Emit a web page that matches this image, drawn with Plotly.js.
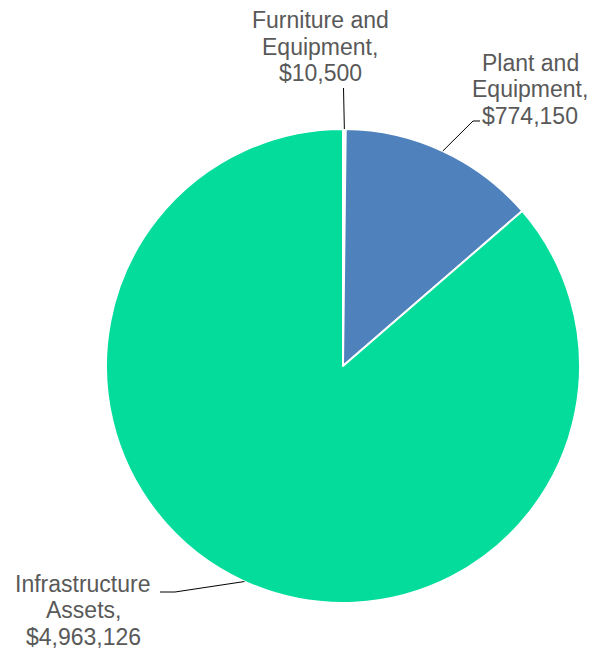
<!DOCTYPE html>
<html>
<head>
<meta charset="utf-8">
<script src="https://cdn.plot.ly/plotly-3.0.1.min.js"></script>
<style>html,body{margin:0;padding:0;background:#fff;}#chart{width:598px;height:660px;}</style>
</head>
<body>
<div id="chart"></div>
<script>
// Data
const categories = ["Furniture and Equipment", "Plant and Equipment", "Infrastructure Assets"];
const values = [10500, 774150, 4963126];
const labelLines = [
  ["Furniture and", "Equipment,", "$10,500"],
  ["Plant and", "Equipment,", "$774,150"],
  ["Infrastructure", "Assets,", "$4,963,126"]
];
const colors = ["#F2F2F2", "#4F81BD", "#03DC9B"];

// Layout geometry (pixels)
const W = 598, H = 660;
const cx = 343, cy = 366, R = 237;
// label block centre, line spacing, leader elbow & end points (pixels)
const labelPos = [
  {x: 320, y: 47, elbow: null, end: [343.5, 88]},
  {x: 530, y: 89, elbow: [473, 121], end: [480, 121]},
  {x: 83, y: 610, elbow: [175, 592], end: [160, 592]}
];
const lineGap = 26.5;

const px = x => x / W;
const py = y => 1 - y / H;

const total = values.reduce((a, b) => a + b, 0);
let cum = 0;
const shapes = [];
const annotations = [];
values.forEach((v, i) => {
  const mid = (cum + v / 2) / total * 2 * Math.PI;
  cum += v;
  const ex = cx + R * Math.sin(mid), ey = cy - R * Math.cos(mid);
  const L = labelPos[i];
  let path = `M${px(ex)},${py(ey)}`;
  if (L.elbow) path += ` L${px(L.elbow[0])},${py(L.elbow[1])}`;
  path += ` L${px(L.end[0])},${py(L.end[1])}`;
  shapes.push({type: 'path', xref: 'paper', yref: 'paper', path: path,
    line: {color: '#000000', width: 1}});
  const lines = labelLines[i];
  lines.forEach((t, j) => {
    annotations.push({
      xref: 'paper', yref: 'paper',
      x: px(L.x), y: py(L.y + (j - (lines.length - 1) / 2) * lineGap),
      xanchor: 'center', yanchor: 'middle',
      text: t, showarrow: false,
      font: {family: 'Liberation Sans, Arial, sans-serif', size: 23, color: '#595959'}
    });
  });
});

const trace = {
  type: 'pie',
  labels: categories,
  values: values,
  sort: false,
  direction: 'clockwise',
  rotation: 0,
  textinfo: 'none',
  hoverinfo: 'label+value',
  marker: {colors: colors, line: {color: '#ffffff', width: 2}},
  domain: {x: [(cx - R) / W, (cx + R) / W], y: [1 - (cy + R) / H, 1 - (cy - R) / H]},
  showlegend: false
};

const layout = {
  width: W, height: H,
  margin: {l: 0, r: 0, t: 0, b: 0},
  paper_bgcolor: '#ffffff',
  showlegend: false,
  shapes: shapes,
  annotations: annotations
};

Plotly.newPlot('chart', [trace], layout, {displayModeBar: false, staticPlot: true});
</script>
</body>
</html>
